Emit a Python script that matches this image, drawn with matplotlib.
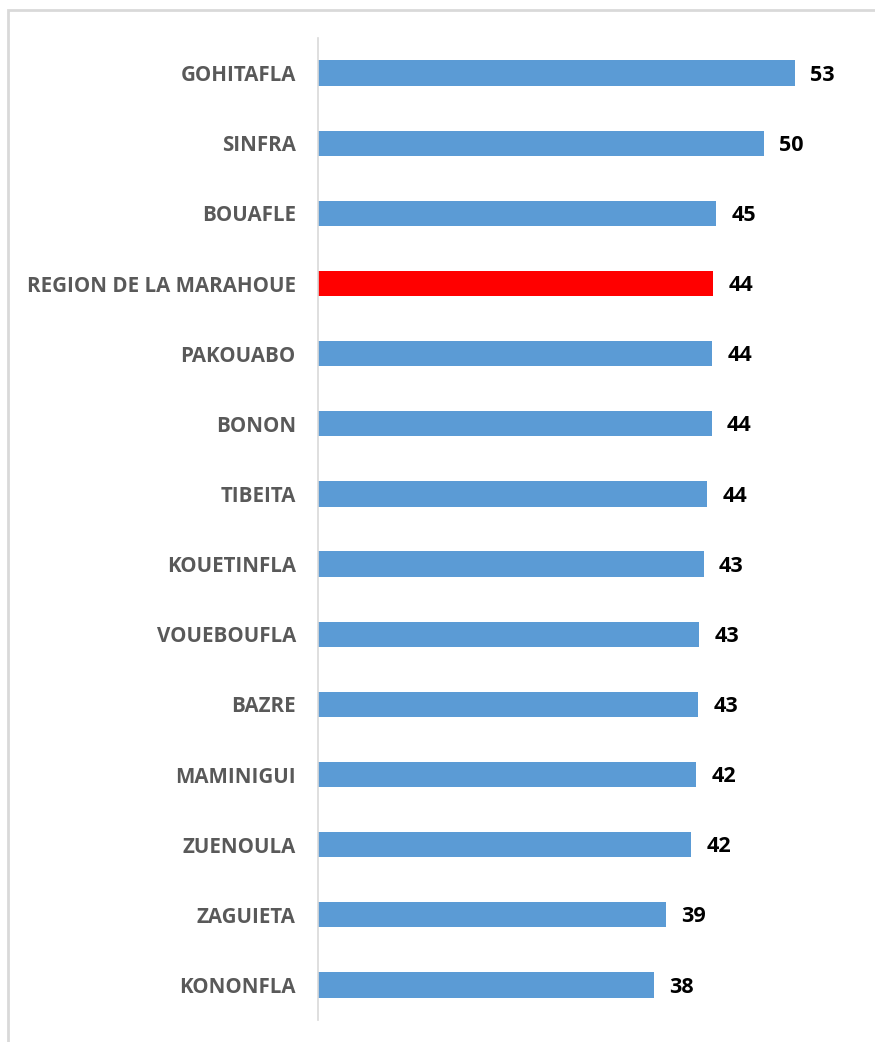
import matplotlib.pyplot as plt
from matplotlib.patches import Rectangle

communes = ['GOHITAFLA', 'SINFRA', 'BOUAFLE', 'REGION DE LA MARAHOUE', 'PAKOUABO',
            'BONON', 'TIBEITA', 'KOUETINFLA', 'VOUEBOUFLA', 'BAZRE', 'MAMINIGUI',
            'ZUENOULA', 'ZAGUIETA', 'KONONFLA']
values = [53.4, 50.0, 44.6, 44.3, 44.2, 44.1, 43.6, 43.2, 42.7, 42.6, 42.4, 41.8, 39.0, 37.6]
highlight = 'REGION DE LA MARAHOUE'

plt.rcParams['font.family'] = ['Open Sans', 'DejaVu Sans']

fig = plt.figure(figsize=(8.75, 10.42), dpi=100)
ax = fig.add_axes([0.3634, 0.0211, 0.612, 0.9424])

colors = ['#FF0000' if c == highlight else '#5B9BD5' for c in communes]
ypos = list(range(len(communes)))
ax.barh(ypos, values, height=0.36, color=colors)

# value labels just after each bar
for y, v in zip(ypos, values):
    ax.text(v + 1.7, y + 0.03, f'{v:.0f}', va='center', ha='left', fontsize=15.5,
            fontweight='bold', color='black')

ax.set_xlim(0, 60)
ax.set_ylim(len(communes) - 0.5, -0.5)
ax.set_yticks(ypos)
ax.set_yticklabels(communes, fontsize=14.8, fontweight='bold', color='#595959')
ax.tick_params(axis='y', length=0, pad=16)
ax.set_xticks([])

for side in ['top', 'right', 'bottom']:
    ax.spines[side].set_visible(False)
ax.spines['left'].set_color('#D9D9D9')
ax.spines['left'].set_linewidth(1.2)

# light frame around the chart area
fig.patches.append(Rectangle((0.0091, -0.02), 1.05, 0.9904 + 0.02, transform=fig.transFigure,
                             fill=False, edgecolor='#D9D9D9', linewidth=2))

fig.savefig('out.png', dpi=100)
